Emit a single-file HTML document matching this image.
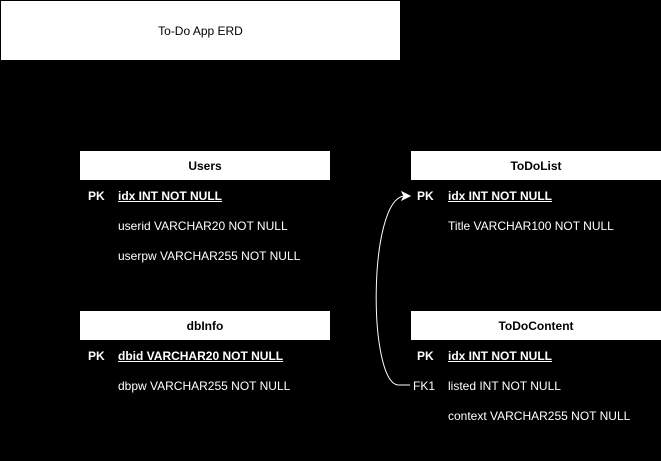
<!DOCTYPE html>
<html><head><meta charset="utf-8"><style>
body{margin:0;width:661px;height:461px;background:#000;position:relative;overflow:hidden;font-family:"Liberation Sans",Arial,sans-serif;font-size:12px;color:#fff}
.a{position:absolute}
.title{left:1px;top:1px;width:399px;height:59px;background:#fff;color:#000;display:flex;align-items:center;justify-content:center;font-size:12px}
.h{background:#fff;color:#000;font-weight:bold;width:250px;height:29px;display:flex;align-items:center;justify-content:center}
.t{line-height:14px}
.b{font-weight:bold}
.u{font-weight:bold;text-decoration:underline}
</style></head><body>
<div class="a title">To-Do App ERD</div>

<div class="a h" style="left:80px;top:151px">Users</div>
<div class="a t b" style="left:88px;top:189px">PK</div>
<div class="a t u" style="left:118px;top:189px">idx INT NOT NULL</div>
<div class="a t" style="left:118px;top:219px">userid VARCHAR20 NOT NULL</div>
<div class="a t" style="left:118px;top:249px">userpw VARCHAR255 NOT NULL</div>

<div class="a h" style="left:411px;top:151px">ToDoList</div>
<div class="a t b" style="left:417px;top:189px">PK</div>
<div class="a t u" style="left:448px;top:189px">idx INT NOT NULL</div>
<div class="a t" style="left:448px;top:219px">Title VARCHAR100 NOT NULL</div>

<div class="a h" style="left:80px;top:311px">dbInfo</div>
<div class="a t b" style="left:88px;top:349px">PK</div>
<div class="a t u" style="left:118px;top:349px">dbid VARCHAR20 NOT NULL</div>
<div class="a t" style="left:118px;top:379px">dbpw VARCHAR255 NOT NULL</div>

<div class="a h" style="left:411px;top:311px">ToDoContent</div>
<div class="a t b" style="left:417px;top:349px">PK</div>
<div class="a t u" style="left:448px;top:349px">idx INT NOT NULL</div>
<div class="a t" style="left:413px;top:379px">FK1</div>
<div class="a t" style="left:448px;top:379px">listed INT NOT NULL</div>
<div class="a t" style="left:448px;top:409px">context VARCHAR255 NOT NULL</div>

<svg class="a" style="left:0;top:0" width="661" height="461">
<path d="M410 385 L398 385 C368 382 368 200 404 196" fill="none" stroke="#fff" stroke-width="1"/>
<path d="M410 196 L402 192 L404 196 L402 200 Z" fill="#fff" stroke="#fff" stroke-width="1"/>
</svg>
</body></html>
